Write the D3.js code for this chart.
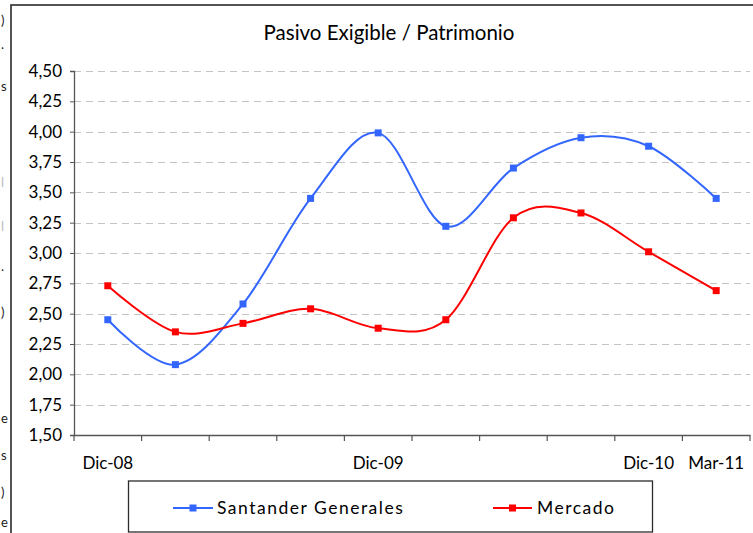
<!DOCTYPE html>
<html>
<head>
<meta charset="utf-8">
<script src="https://cdn.jsdelivr.net/npm/d3@7"></script>
<style>
  html, body { margin: 0; padding: 0; background: #fff; }
  svg { display: block; }
</style>
</head>
<body>
<svg id="chart" width="753" height="533"></svg>
<script>
// ---- data ----
const categories = ["Dic-08", "Mar-09", "Jun-09", "Sep-09", "Dic-09", "Mar-10", "Jun-10", "Sep-10", "Dic-10", "Mar-11"];
const tickLabels = ["Dic-08", "", "", "", "Dic-09", "", "", "", "Dic-10", "Mar-11"];
const santander = [2.45, 2.08, 2.58, 3.45, 3.99, 3.22, 3.70, 3.95, 3.88, 3.45];
const mercado   = [2.73, 2.35, 2.42, 2.54, 2.38, 2.45, 3.29, 3.33, 3.01, 2.69];
const yTicks = [1.50, 1.75, 2.00, 2.25, 2.50, 2.75, 3.00, 3.25, 3.50, 3.75, 4.00, 4.25, 4.50];
const seriesNames = ["Santander Generales", "Mercado"];
const leftFragments = [")", ".", "s", "l", "l", ".", ")", "e", "s", ")", "e"];

// ---- layout ----
const svg = d3.select("#chart");
const W = 753, H = 533;
const plot = { left: 74, right: 750, top: 71, bottom: 435 };
const colors = ["#3366ff", "#ff0000"];
const font = "Lato, 'Open Sans', sans-serif";

svg.append("rect").attr("width", W).attr("height", H).attr("fill", "#fff");

// small text fragments at the left edge
const fragY = [20, 44, 86, 182, 226, 266, 312, 418, 455, 492, 522];
svg.append("g").selectAll("text").data(leftFragments).join("text")
  .attr("x", 1).attr("y", (d, i) => fragY[i] + 5)
  .attr("text-anchor", "start")
  .attr("font-family", font).attr("font-size", 13)
  .attr("fill", (d, i) => (i >= 3 && i <= 4) ? "#bbb" : "#222")
  .text(d => d);

// outer chart border
svg.append("rect")
  .attr("x", 11).attr("y", 5).attr("width", 780).attr("height", 560)
  .attr("fill", "none").attr("stroke", "#2b2b2b").attr("stroke-width", 1.6);

// title
svg.append("text")
  .attr("x", 389).attr("y", 40)
  .attr("text-anchor", "middle")
  .attr("font-family", font).attr("font-size", 20.5)
  .attr("fill", "#000")
  .text("Pasivo Exigible / Patrimonio");

// scales
const x = d3.scaleBand().domain(categories).range([plot.left, plot.right]).padding(0);
const y = d3.scaleLinear().domain([1.5, 4.5]).range([plot.bottom, plot.top]);
const xc = d => x(d) + x.bandwidth() / 2;
const fmt = v => d3.format(".2f")(v).replace(".", ",");

// gridlines
svg.append("g").selectAll("line").data(yTicks.filter(t => t > 1.5)).join("line")
  .attr("x1", plot.left).attr("x2", plot.right)
  .attr("y1", d => Math.round(y(d)) + 0.5).attr("y2", d => Math.round(y(d)) + 0.5)
  .attr("stroke", "#c4c4c4").attr("stroke-width", 1.2)
  .attr("stroke-dasharray", "7,5");

// y axis
const yAxis = svg.append("g")
  .attr("transform", `translate(${plot.left},0)`)
  .call(d3.axisLeft(y).tickValues(yTicks).tickFormat(fmt).tickSize(4).tickPadding(8));
yAxis.select(".domain").attr("stroke", "#555").attr("stroke-width", 1.3);
yAxis.selectAll(".tick line").attr("stroke", "#555");
yAxis.selectAll("text").attr("font-family", font).attr("font-size", 17).attr("fill", "#000");

// x axis (labels at category centres)
const xAxis = svg.append("g")
  .attr("transform", `translate(0,${plot.bottom})`)
  .call(d3.axisBottom(x).tickSize(0).tickPadding(22).tickFormat((d, i) => tickLabels[i]));
xAxis.select(".domain").attr("stroke", "#555").attr("stroke-width", 1.3);
xAxis.selectAll("text").attr("font-family", font).attr("font-size", 17).attr("fill", "#000");

// x boundary tick marks
const bounds = categories.map(c => x(c)).concat([x.range()[1]]);
svg.append("g").selectAll("line").data(bounds).join("line")
  .attr("x1", d => d).attr("x2", d => d)
  .attr("y1", plot.bottom).attr("y2", plot.bottom + 6)
  .attr("stroke", "#555").attr("stroke-width", 1.2);

// lines + markers
const line = d3.line()
  .x((d, i) => xc(categories[i]))
  .y(d => y(d))
  .curve(d3.curveCardinal.tension(0));

[santander, mercado].forEach((series, si) => {
  svg.append("path").datum(series)
    .attr("d", line)
    .attr("fill", "none")
    .attr("stroke", colors[si]).attr("stroke-width", 2);
  svg.append("g").selectAll("rect").data(series).join("rect")
    .attr("x", (d, i) => xc(categories[i]) - 3.5)
    .attr("y", d => y(d) - 3.5)
    .attr("width", 7).attr("height", 7)
    .attr("fill", colors[si]);
});

// legend
const legend = svg.append("g");
legend.append("rect")
  .attr("x", 128.5).attr("y", 481).attr("width", 524).attr("height", 51)
  .attr("fill", "#fff").attr("stroke", "#2b2b2b").attr("stroke-width", 1.3);
const legendItems = [
  { x1: 173, x2: 213, tx: 217 },
  { x1: 493, x2: 532, tx: 537 }
];
legendItems.forEach((it, i) => {
  legend.append("line")
    .attr("x1", it.x1).attr("x2", it.x2).attr("y1", 508).attr("y2", 508)
    .attr("stroke", colors[i]).attr("stroke-width", 2);
  legend.append("rect")
    .attr("x", (it.x1 + it.x2) / 2 - 3.5).attr("y", 504.5)
    .attr("width", 7).attr("height", 7).attr("fill", colors[i]);
  legend.append("text")
    .attr("x", it.tx).attr("y", 514)
    .attr("font-family", font).attr("font-size", 17.5)
    .attr("letter-spacing", 1.5)
    .attr("fill", "#000")
    .text(seriesNames[i]);
});
</script>
</body>
</html>
